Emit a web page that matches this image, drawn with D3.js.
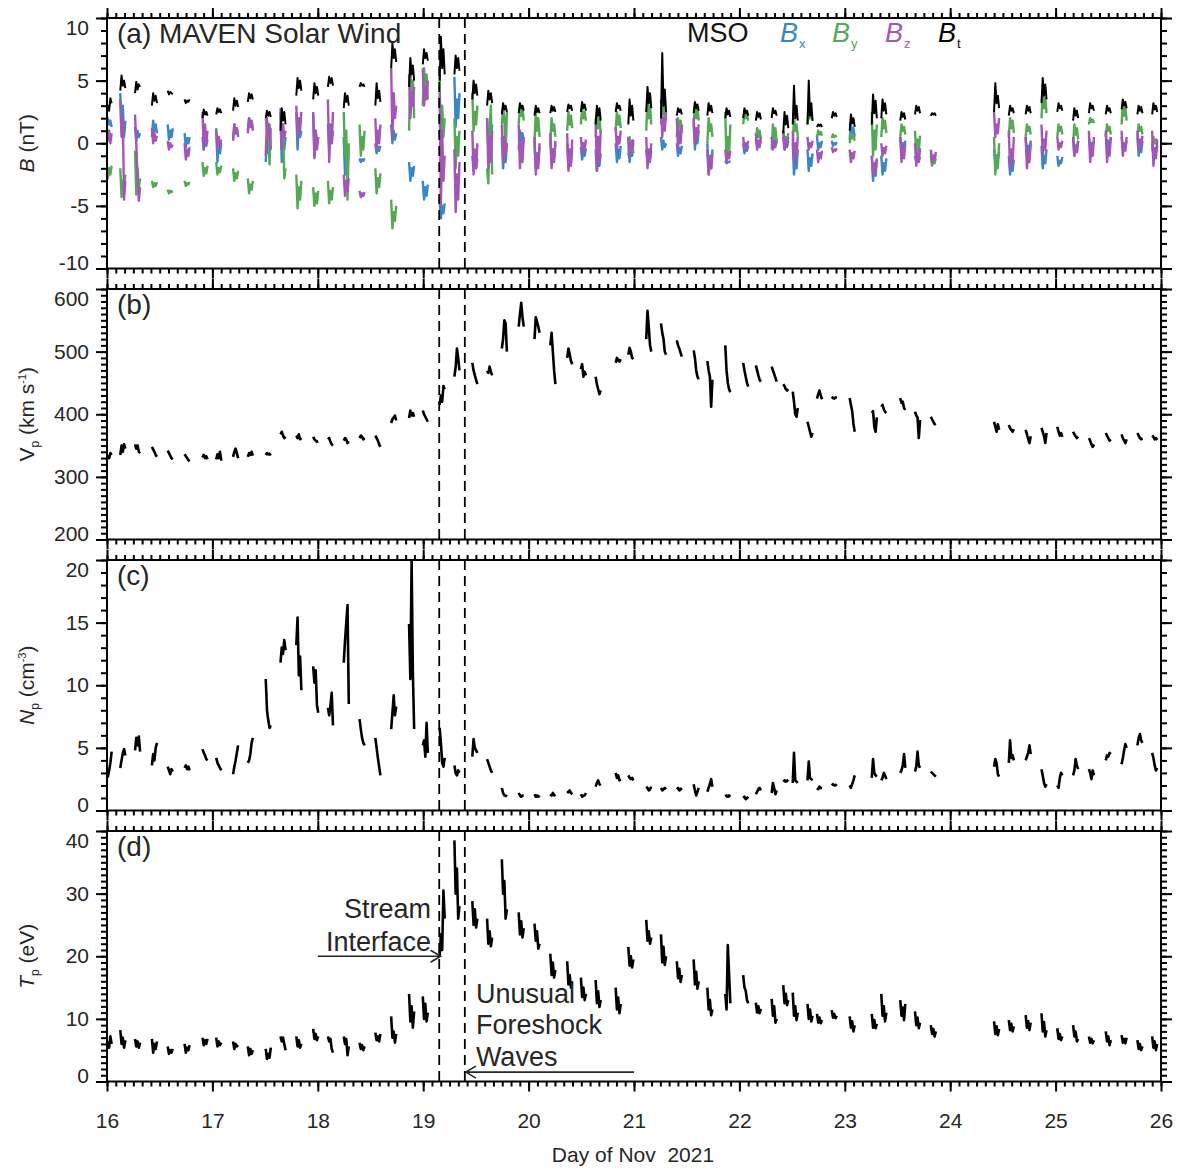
<!DOCTYPE html>
<html>
<head>
<meta charset="utf-8">
<script src="https://cdn.jsdelivr.net/npm/d3@7"></script>
<style>
  body { margin: 0; background: #fff; }
  svg { display: block; font-family: "Liberation Sans", Arial, Helvetica, sans-serif; }
</style>
</head>
<body>
<div id="chart"></div>
<script>
// MAVEN solar wind intervals, 16-26 Nov 2021
// one entry per orbit (centre of the solar-wind window, day of Nov)
const orbitDay = [
  16.02, 16.15, 16.29, 16.45, 16.60, 16.76, 16.93,
  17.06, 17.22, 17.36, 17.53, 17.67, 17.82,
  17.98, 18.12, 18.27, 18.42, 18.57, 18.72, 18.89,
  19.02, 19.18, 19.32, 19.49, 19.63, 19.77, 19.93,
  20.08, 20.23, 20.39, 20.52, 20.66, 20.85, 20.97,
  21.14, 21.28, 21.43, 21.59, 21.72, 21.89,
  22.06, 22.18, 22.33, 22.44, 22.53, 22.67, 22.76, 22.90,
  23.07, 23.28, 23.37, 23.55, 23.69, 23.84,
  24.44, 24.58, 24.74, 24.89,
  25.04, 25.19, 25.34, 25.50, 25.65, 25.80, 25.94
];
// sample times inside each window, relative to orbitDay (days)
const sampleOffsets = [-0.024, -0.012, 0, 0.012, 0.024];

// (a) magnetic field, nT
const bt = [
  [2.2,3.0,2.6,3.6,3.2],[4.2,5.4,4.6,5.0,4.4],[4.0,4.9,4.3,4.7,4.5],[3.0,4.0,3.4,3.8,3.2],[4.2,3.9,4.1,4.0,3.9],[3.5,3.2,3.4,3.3,3.5],[2.0,2.7,2.3,2.5,2.2],
  [2.3,2.8,2.5,2.7,2.4],[2.6,3.6,3.0,3.4,2.9],[3.3,4.0,3.6,3.9,3.5],[2.0,2.6,2.2,2.5,2.1],[1.0,2.8,1.8,2.5,1.5],[3.8,5.2,4.4,5.0,4.2],
  [3.5,4.8,4.0,4.5,3.8],[4.5,5.3,4.8,5.2,4.6],[2.8,4.0,3.3,3.8,3.0],[4.5,4.8,4.6,4.7,4.5],[3.0,4.8,3.6,4.2,3.3],[6.0,8.0,6.8,7.5,6.5],[4.5,6.8,5.5,6.2,5.0],
  [6.3,7.5,6.8,7.2,6.6],[5.0,8.5,6.0,7.5,5.5],[5.5,7.0,6.0,6.8,5.8],[3.5,5.0,4.0,4.7,3.8],[3.0,4.2,3.5,4.0,3.2],[2.3,3.2,2.7,3.0,2.5],[2.4,3.2,2.8,3.0,2.6],
  [2.2,3.0,2.5,2.8,2.4],[2.4,3.0,2.6,2.9,2.5],[2.5,3.1,2.8,3.0,2.6],[2.5,3.3,2.8,3.1,2.6],[1.5,3.0,2.2,2.8,1.8],[2.5,3.2,2.8,3.0,2.6],[1.5,3.5,2.2,3.0,1.8],
  [2.5,4.5,3.2,4.0,2.8],[2.0,7.2,3.0,4.3,2.5],[2.2,2.8,2.5,2.7,2.3],[2.4,3.3,2.8,3.1,2.6],[2.2,3.2,2.6,3.0,2.4],[2.0,2.8,2.3,2.6,2.1],
  [2.0,2.8,2.4,2.6,2.2],[1.8,2.5,2.1,2.4,1.9],[2.0,2.8,2.4,2.6,2.2],[0.8,2.5,1.5,2.2,1.2],[1.5,4.6,2.0,3.0,1.8],[1.5,5.0,2.2,3.2,1.8],[1.3,1.5,1.4,1.5,1.3],[2.0,2.5,2.2,2.4,2.1],
  [1.0,2.3,1.6,2.0,1.3],[1.5,3.9,2.4,3.4,2.0],[2.0,3.5,2.6,3.2,2.3],[1.8,2.5,2.1,2.4,1.9],[2.3,3.0,2.6,2.9,2.4],[2.2,2.4,2.3,2.4,2.2],
  [2.5,4.8,3.2,3.8,2.8],[2.2,3.0,2.6,2.8,2.4],[2.3,3.0,2.6,2.9,2.4],[3.2,5.2,3.8,4.7,3.5],
  [2.5,3.2,2.8,3.0,2.6],[1.8,2.8,2.2,2.6,2.0],[2.4,3.2,2.8,3.0,2.6],[2.3,3.0,2.6,2.8,2.4],[2.7,3.5,3.0,3.3,2.8],[2.3,3.0,2.6,2.9,2.4],[2.3,3.2,2.7,3.0,2.5]
];
const bx = [
  [1.2,2.0,1.5,1.8,1.3],[4.0,1.0,3.0,0.5,1.8],[1.3,0.2,1.0,0.5,0.8],[0.5,1.8,1.0,1.5,0.8],[1.5,0.3,1.0,0.5,1.2],[0.8,-0.3,0.4,0.0,0.5],[0.5,-0.5,0.2,-0.2,0.3],
  [1.2,-1.5,0.5,-0.8,0.0],[0.3,1.5,0.8,1.2,0.6],[1.0,2.0,1.4,1.8,1.2],[-1.5,0.5,-0.8,0.0,-0.5],[2.2,-1.5,1.0,-0.5,0.5],[2.5,-0.5,1.5,0.5,1.0],
  [2.3,-1.0,1.0,0.0,0.5],[1.5,-0.5,0.8,0.0,1.0],[0.5,-2.5,-1.0,-2.0,-0.5],[-1.2,-1.5,-1.3,-1.4,-1.2],[0.0,-0.8,-0.3,-0.6,-0.2],[1.5,0.0,1.0,0.3,0.8],[-1.5,-3.0,-2.0,-2.6,-1.8],
  [-3.0,-4.5,-3.5,-4.2,-3.3],[-4.5,-6.0,-5.0,-5.6,-4.8],[5.3,1.3,3.5,2.0,4.0],[-1.0,-2.2,-1.5,-2.0,-1.2],[2.0,-0.5,1.0,0.0,1.5],[0.5,-2.0,-0.5,-1.5,0.0],[-0.5,1.0,0.2,0.8,0.0],
  [0.0,-2.0,-0.8,-1.5,-0.3],[0.2,-1.5,-0.5,-1.2,0.0],[0.0,-2.0,-0.8,-1.5,-0.3],[-0.3,-1.3,-0.6,-1.0,-0.4],[-0.5,-2.2,-1.0,-1.8,-0.8],[0.0,-1.5,-0.5,-1.2,-0.2],[0.5,-1.5,-0.5,-1.0,0.0],
  [-0.5,-1.5,-0.8,-1.2,-0.6],[0.5,-0.5,0.2,-0.3,0.0],[0.0,-1.0,-0.4,-0.8,-0.2],[1.5,-0.5,0.8,0.0,1.0],[0.0,-2.5,-1.0,-2.0,-0.5],[-1.4,-1.6,-1.5,-1.5,-1.4],
  [0.0,-0.8,-0.4,-0.6,-0.2],[0.3,-0.2,0.1,-0.1,0.2],[0.5,0.0,0.3,0.1,0.4],[0.5,-0.5,0.0,-0.3,0.2],[0.0,-2.5,-1.0,-2.0,-0.5],[-0.5,-2.2,-1.2,-1.8,-0.8],[0.5,-0.5,0.0,-0.3,0.2],[0.2,-0.2,0.0,-0.1,0.1],
  [0.3,1.5,0.8,1.2,0.5],[-1.0,-3.0,-1.8,-2.6,-1.3],[-1.0,-2.5,-1.6,-2.2,-1.2],[0.5,-0.5,0.0,-0.3,0.2],[-1.0,-1.5,-1.2,-1.4,-1.1],[-0.8,-1.2,-1.0,-1.1,-0.9],
  [-0.5,-1.5,-1.0,-1.3,-0.7],[-1.0,-2.5,-1.6,-2.2,-1.3],[0.5,-1.0,-0.2,-0.8,0.2],[-0.2,-2.0,-1.0,-1.6,-0.5],
  [-1.0,-1.8,-1.4,-1.6,-1.1],[0.5,-1.0,-0.2,-0.7,0.2],[0.5,-0.5,0.0,-0.3,0.2],[0.8,-0.5,0.2,-0.2,0.5],[0.5,-0.5,0.0,-0.3,0.2],[0.5,-1.0,-0.2,-0.7,0.2],[0.0,-1.0,-0.5,-0.8,-0.2]
];
const by = [
  [-1.5,-2.8,-2.0,-2.5,-1.8],[-2.0,-4.3,-3.0,-3.8,-2.5],[-0.6,-4.1,-2.0,-3.5,-2.8],[-3.0,-3.5,-3.2,-3.4,-3.1],[-3.7,-4.0,-3.8,-3.9,-3.8],[-3.0,-3.4,-3.2,-3.3,-3.1],[-1.5,-2.6,-2.0,-2.4,-1.8],
  [-1.5,-2.5,-2.0,-2.3,-1.8],[-2.0,-3.0,-2.4,-2.8,-2.2],[-2.8,-4.0,-3.3,-3.7,-3.0],[2.0,1.0,1.5,-1.7,1.2],[2.5,0.5,1.5,-2.8,-2.0],[-2.5,-5.2,-3.5,-4.5,-3.0],
  [-3.5,-5.0,-4.0,-4.8,-3.8],[-3.0,-4.8,-3.8,-4.5,-3.5],[2.5,-1.0,1.0,-4.5,0.0],[1.5,-1.0,0.5,-0.5,1.0],[-2.0,-4.0,-2.8,-3.5,-2.4],[-4.5,-6.8,-5.5,-6.2,-5.0],[1.0,6.0,3.0,5.0,2.0],
  [3.0,6.0,4.0,5.5,3.5],[5.5,-2.0,3.0,0.5,2.0],[2.0,-2.0,0.5,-1.0,1.0],[4.0,1.0,2.5,1.5,3.0],[-2.0,-3.2,1.0,3.0,-2.5],[1.5,2.8,2.0,-1.0,2.5],[1.5,3.0,2.2,2.8,1.8],
  [0.0,2.5,1.0,2.0,0.5],[0.0,2.0,1.0,1.5,0.5],[1.0,2.5,1.5,2.2,1.2],[1.5,2.8,2.0,2.5,1.8],[0.5,2.5,1.2,2.0,0.8],[1.0,2.5,1.5,2.2,1.2],[-1.0,0.5,-0.5,0.2,-0.8],
  [1.0,3.5,2.0,3.0,1.5],[1.5,3.5,2.2,3.0,1.8],[0.5,2.0,1.2,1.8,0.8],[1.5,3.0,2.0,2.7,1.8],[0.0,2.0,1.0,1.5,0.5],[2.5,-1.5,0.5,-1.0,1.5],
  [1.5,2.5,2.0,2.3,1.8],[0.0,1.2,0.5,1.0,0.3],[-0.5,1.5,0.5,1.2,0.0],[1.0,0.0,0.5,0.2,0.8],[0.0,2.0,1.0,1.5,0.5],[1.5,2.5,2.0,2.2,1.8],[0.5,1.0,0.7,0.9,0.6],[0.4,0.7,0.5,0.6,0.5],
  [0.0,0.8,0.4,0.6,0.2],[2.5,-1.0,1.0,-0.5,1.5],[0.5,2.0,1.2,1.8,0.8],[0.5,1.5,1.0,1.3,0.7],[1.0,-1.0,0.3,-0.6,0.6],[-1.0,-1.8,-1.4,-1.6,-1.2],
  [0.5,-2.5,-1.0,-2.0,0.0],[0.5,2.0,1.2,1.8,0.8],[0.5,1.5,1.0,1.3,0.7],[2.0,4.0,2.8,3.6,2.4],
  [0.5,1.5,1.0,1.3,0.7],[0.0,1.5,0.7,1.2,0.3],[1.5,2.0,1.7,1.9,1.6],[0.5,1.5,1.0,1.3,0.7],[1.5,3.2,2.2,2.8,1.8],[0.5,1.5,1.0,1.3,0.7],[-0.5,0.5,0.0,0.3,-0.2]
];
const bz = [
  [1.5,0.2,1.0,0.0,0.8],[3.5,0.5,2.0,-4.5,-3.0],[2.3,-0.1,-2.7,-4.6,-3.5],[1.2,0.0,0.8,0.2,0.6],[0.2,-0.5,0.0,-0.3,-0.1],[0.0,-1.3,-0.5,-1.0,-0.3],[2.5,-0.5,1.5,0.0,1.0],
  [1.0,-0.5,0.5,-0.2,0.3],[0.2,1.5,0.8,1.2,0.5],[0.8,2.0,1.3,1.7,1.0],[-1.0,2.0,0.5,1.5,-0.5],[2.8,-0.5,1.5,0.5,1.0],[3.0,0.5,2.0,1.0,2.5],
  [2.5,-1.2,1.0,-0.5,0.5],[3.5,-1.5,1.5,0.0,2.5],[-2.5,-4.2,-3.0,-3.8,-2.8],[-3.8,-4.3,-4.0,-4.2,-3.9],[2.0,-0.5,1.0,0.0,1.5],[6.0,0.5,4.0,2.0,3.0],[5.5,2.0,4.0,3.0,4.5],
  [6.0,3.0,4.5,3.5,5.0],[4.0,-5.0,1.0,-3.0,-1.0],[-0.5,-5.5,-2.5,-4.5,-1.5],[1.0,-2.5,-0.5,-2.0,0.0],[2.0,-2.0,0.5,-1.5,1.0],[1.5,-1.5,0.5,-1.0,0.0],[1.5,-2.0,0.0,-1.5,0.5],
  [0.5,-2.5,-1.0,-2.0,0.0],[0.8,-2.0,-0.5,-1.5,0.2],[0.8,-2.2,-0.5,-1.8,0.3],[0.5,-0.8,0.0,-0.5,0.3],[2.0,-2.2,0.5,-1.5,1.0],[1.3,-0.5,0.5,0.0,1.0],[0.5,-1.0,0.0,-0.5,0.3],
  [0.5,-2.0,-0.5,-1.5,0.0],[3.5,0.5,2.0,1.0,2.5],[2.0,-0.5,1.0,0.0,1.5],[2.0,0.0,1.2,0.5,1.5],[-0.5,-2.5,-1.2,-2.0,-0.8],[-0.5,-1.5,-0.8,-1.2,-0.6],
  [0.5,-0.5,0.0,-0.3,0.2],[0.8,-0.5,0.2,-0.3,0.5],[0.5,-0.5,0.0,-0.3,0.2],[1.0,-0.5,0.3,-0.2,0.5],[1.0,-1.5,0.0,-1.0,0.5],[0.5,-0.5,0.0,-0.3,0.2],[-0.5,-1.5,-0.8,-1.2,-0.6],[-0.3,-0.7,-0.5,-0.6,-0.4],
  [-0.5,-1.5,-0.8,-1.2,-0.6],[-1.0,-2.5,-1.6,-2.2,-1.2],[0.0,-1.0,-0.4,-0.8,-0.2],[0.5,-1.5,-0.4,-1.2,0.0],[0.0,-1.8,-0.8,-1.5,-0.4],[-0.5,-1.5,-1.0,-1.3,-0.7],
  [2.5,0.5,1.5,0.8,2.0],[1.0,-2.0,-0.5,-1.5,0.5],[0.5,-2.0,-0.8,-1.5,0.0],[1.5,-1.0,0.3,-0.5,1.0],
  [0.5,-0.5,0.0,-0.3,0.2],[0.5,-1.0,-0.2,-0.7,0.2],[1.0,-1.5,-0.2,-1.0,0.5],[1.0,-1.5,-0.2,-1.0,0.5],[1.0,-1.0,0.0,-0.6,0.5],[1.0,-0.5,0.3,-0.2,0.6],[1.0,-1.8,-0.4,-1.2,0.3]
];

// (b) proton speed, km/s
const vp = [
  [326,333,330,338,335],[335,350,340,352,345],[352,345,350,340,338],[348,344,340,335,332],[342,338,334,330,328],[336,333,330,327,325],[331,335,330,333,328],
  [328,336,330,340,326],[332,340,345,338,330],[332,338,335,340,334],[335,338,336,337,334],[368,372,366,362,364],[366,362,368,360,362],
  [364,360,358,356,357],[360,362,356,352,350],[358,362,360,354,357],[362,366,364,360,362],[366,362,358,352,348],[386,392,395,398,390],[394,406,398,402,396],
  [406,400,396,392,388],[415,430,420,445,440],[460,475,505,490,470],[482,470,462,455,448],[470,466,476,468,462],[505,520,550,545,500],[540,560,578,555,540],
  [520,555,548,540,530],[510,530,500,470,448],[490,505,496,485,480],[472,480,460,468,462],[460,448,440,432,438],[482,490,486,484,488],[495,506,500,490,488],
  [520,565,540,510,500],[545,530,520,500,495],[518,510,505,498,492],[502,490,470,460,456],[485,470,460,412,455],[510,470,450,440,435],
  [482,470,460,450,444],[478,470,462,455,452],[476,470,464,458,452],[448,445,440,438,440],[436,420,400,396,410],[388,380,372,364,370],[425,432,438,430,424],[428,426,425,427,426],
  [426,415,405,385,372],[402,405,380,372,395],[412,415,408,404,402],[426,418,420,410,407],[404,398,395,362,391],[396,392,388,384,385],
  [388,380,372,384,375],[383,378,375,372,376],[375,368,360,354,365],[378,372,365,354,370],
  [380,372,366,370,364],[372,368,365,362,364],[362,358,352,348,352],[370,366,362,358,360],[368,362,358,354,360],[370,366,362,360,362],[366,364,360,362,359]
];

// (c) proton density, cm^-3
const np = [
  [2.8,2.7,3.2,3.8,4.7],[3.4,4.0,4.6,4.9,4.4],[4.8,5.8,5.2,5.9,4.7],[3.6,4.5,4.0,5.0,5.4],[3.5,3.2,2.9,3.3,3.1],[3.4,3.6,3.3,3.5,3.2],[4.9,4.6,4.4,4.1,4.0],
  [4.2,3.8,3.6,3.4,3.2],[2.9,3.5,4.0,4.6,5.2],[3.8,4.0,4.5,5.4,5.8],[10.5,8.0,7.2,6.6,6.8],[11.8,13.0,12.5,13.6,12.8],[13.2,15.4,10.8,12.3,9.6],
  [11.5,10.2,11.2,8.4,7.8],[8.2,7.6,8.4,9.4,6.8],[11.8,13.5,15.0,16.4,8.5],[7.3,6.5,5.8,5.4,5.2],[5.8,5.0,4.2,3.5,2.8],[6.5,7.8,9.2,7.6,8.3],[14.9,10.5,19.9,11.0,6.5],
  [5.2,5.6,4.3,7.0,4.6],[6.6,5.4,3.8,3.5,4.2],[3.6,3.0,2.8,3.2,3.0],[4.3,5.7,5.0,4.8,4.6],[4.1,3.8,3.5,3.2,3.0],[1.8,1.4,1.2,1.2,1.1],[1.4,1.2,1.1,1.2,1.2],
  [1.3,1.1,1.2,1.1,1.2],[1.3,1.2,1.4,1.2,1.3],[1.4,1.5,1.6,1.4,1.3],[1.3,1.1,1.2,1.2,1.4],[1.9,2.2,2.4,2.1,2.0],[3.0,2.6,2.8,2.4,2.5],[2.8,2.6,2.5,2.6,2.4],
  [1.9,1.8,1.6,1.7,1.9],[1.8,1.6,1.7,1.8,1.7],[1.7,1.8,1.6,1.7,1.8],[2.1,1.6,1.2,1.5,1.8],[1.5,1.8,2.1,2.5,1.9],[1.1,1.2,1.1,1.2,1.1],
  [1.0,1.1,0.9,1.0,1.1],[1.3,1.5,1.7,1.8,1.6],[1.4,2.2,1.8,1.3,1.6],[2.3,2.4,2.3,2.4,2.3],[2.2,4.6,2.4,2.3,2.2],[2.4,3.9,2.6,2.5,2.4],[1.8,1.7,1.9,1.8,1.8],[2.0,2.1,2.0,2.0,2.1],
  [2.0,1.8,2.1,2.4,2.8],[2.6,4.1,3.0,2.8,2.7],[2.4,2.6,3.0,2.8,2.5],[3.0,3.2,3.6,4.5,3.4],[3.1,3.5,4.7,3.6,3.4],[3.1,3.0,2.9,2.8,2.7],
  [3.5,4.1,3.8,2.9,2.7],[3.8,5.6,4.2,4.4,4.0],[4.0,4.3,4.6,5.2,4.5],[3.3,2.8,2.2,1.9,2.1],
  [2.0,1.8,2.6,3.0,2.8],[2.8,3.2,4.1,3.6,3.3],[3.3,3.0,2.5,3.2,2.8],[4.0,4.4,4.3,4.6,4.5],[3.7,4.2,4.8,5.3,5.0],[5.2,5.8,6.1,5.6,5.4],[4.6,4.2,3.6,3.2,3.4]
];

// (d) proton temperature, eV
const tp = [
  [5.0,6.2,5.4,7.2,6.0],[8.2,6.0,7.0,5.4,6.6],[6.8,5.6,6.4,5.4,6.2],[6.8,4.6,6.0,5.2,6.4],[5.6,4.4,5.0,4.6,5.2],[6.0,4.6,5.4,5.0,5.8],[7.0,5.8,6.6,6.0,6.8],
  [7.0,5.6,6.4,5.8,6.2],[6.4,5.2,6.0,5.6,5.8],[5.6,4.2,5.2,4.4,5.0],[5.2,3.6,4.4,3.8,5.4],[7.2,6.4,7.0,6.0,5.0],[7.2,5.6,6.6,5.4,6.0],
  [8.4,6.8,7.6,6.6,7.2],[7.2,6.4,6.8,5.2,4.6],[7.2,6.0,6.8,4.2,5.6],[6.2,5.2,5.8,5.0,5.6],[7.8,6.6,7.2,6.4,7.6],[10.4,7.0,8.0,6.2,7.6],[14.0,9.6,12.0,8.6,11.2],
  [13.6,10.0,12.4,9.6,11.0],[20.0,23.5,21.0,30.5,26.0],[38.5,30.0,34.0,26.0,28.0],[28.8,25.0,27.5,24.6,26.0],[26.0,22.0,24.0,21.6,23.0],[35.5,30.0,32.0,26.0,27.5],[27.0,23.5,25.6,23.0,24.5],
  [25.2,22.5,24.0,21.2,22.0],[20.4,17.0,19.0,16.6,17.8],[19.2,15.5,17.0,15.0,16.0],[16.6,13.5,15.0,13.0,14.0],[16.2,12.5,14.4,11.9,13.0],[15.0,11.5,13.4,10.9,12.4],[21.5,18.5,20.0,18.2,19.5],
  [25.8,22.5,24.0,22.0,23.0],[23.5,19.0,21.5,18.6,20.0],[19.2,16.5,18.0,15.9,17.0],[19.5,15.5,17.5,14.8,16.0],[15.0,11.5,13.0,10.6,11.5],[14.0,11.5,21.8,17.2,12.5],
  [17.0,15.0,14.5,13.0,12.5],[12.6,11.0,12.0,10.9,11.6],[13.2,10.5,12.0,9.4,10.0],[15.4,12.5,14.0,12.2,13.0],[14.2,10.5,12.0,9.8,11.0],[12.4,10.0,11.5,9.6,10.5],[10.8,9.4,10.2,9.3,9.8],[11.4,10.2,10.8,10.1,10.5],
  [10.4,8.6,9.6,8.0,9.0],[10.8,8.6,9.8,8.5,9.2],[14.0,10.5,12.0,9.6,11.0],[13.0,10.5,11.8,9.8,12.4],[11.2,9.0,10.2,8.5,9.4],[9.0,7.6,8.4,7.2,8.0],
  [9.6,7.6,8.8,7.4,8.4],[9.8,8.2,9.2,8.0,8.8],[10.6,8.6,9.6,8.2,9.4],[10.9,8.0,9.5,7.2,8.2],
  [8.5,6.8,7.6,6.6,7.2],[9.0,7.2,8.0,6.4,6.8],[7.2,6.2,6.8,6.1,6.6],[8.0,6.4,7.2,5.8,6.6],[7.4,6.2,6.8,6.1,7.0],[6.6,5.2,6.0,5.0,5.6],[7.2,5.4,6.4,5.0,6.0]
];

// dashed lines: stream interface and end of the unusual foreshock waves
const eventDays = [19.152, 19.395];

const colors = { bx: '#3b86c6', by: '#55a955', bz: '#a555b8', bt: '#000' };
const textColor = '#262626';

const W = 1181, H = 1169;
const plotLeft = 107, plotRight = 1161;
const panelTop = [18, 289, 560, 831];
const panelH = 250.5;

const x = d3.scaleLinear().domain([16, 26]).range([plotLeft, plotRight]);
const xMajor = d3.range(16, 26.5, 1);
const xMinor = d3.range(0, 121).map(i => 16 + i / 12);

const svg = d3.select('#chart').append('svg')
    .attr('width', W)
    .attr('height', H);

const panels = [
    { domain: [-10, 10], major: 5, minor: 1, tag: '(a) MAVEN Solar Wind',
      series: [{ v: bx, c: colors.bx, w: 2.4 }, { v: by, c: colors.by, w: 2.4 },
               { v: bz, c: colors.bz, w: 2.4 }, { v: bt, c: colors.bt, w: 2 }] },
    { domain: [200, 600], major: 100, minor: 10, tag: '(b)', series: [{ v: vp, c: '#000', w: 2.6 }] },
    { domain: [0, 20], major: 5, minor: 1, tag: '(c)', series: [{ v: np, c: '#000', w: 2.6 }] },
    { domain: [0, 40], major: 10, minor: 1, tag: '(d)', series: [{ v: tp, c: '#000', w: 2.6 }] }
];

function styleAxis(sel) {
    sel.select('.domain').remove();
    sel.selectAll('.tick line').attr('stroke', '#000').attr('stroke-width', 2);
    sel.selectAll('.tick text').attr('fill', textColor).style('font-size', '21px')
        .style('font-family', '"Liberation Sans", Arial, sans-serif');
}

const scales = [];

panels.forEach((p, i) => {
    const top = panelTop[i], bottom = top + panelH;
    const y = d3.scaleLinear().domain(p.domain).range([bottom, top]);
    scales.push(y);
    const g = svg.append('g');

    // clip for the data
    svg.append('clipPath').attr('id', 'clip' + i)
        .append('rect').attr('x', plotLeft).attr('y', top)
        .attr('width', plotRight - plotLeft).attr('height', panelH);

    const dataG = g.append('g').attr('clip-path', `url(#clip${i})`);
    const line = d3.line().x(d => x(d[0])).y(d => y(d[1]));

    p.series.forEach(s => {
        s.v.forEach((vals, k) => {
            if (!vals) return;
            const pts = vals.map((v, j) => [orbitDay[k] + sampleOffsets[j], v]);
            dataG.append('path')
                .attr('d', line(pts))
                .attr('fill', 'none')
                .attr('stroke', s.c)
                .attr('stroke-width', s.w)
                .attr('stroke-linejoin', 'round');
        });
    });

    // dashed event lines
    dataG.selectAll('line.event')
        .data(eventDays)
        .join('line')
        .attr('class', 'event')
        .attr('x1', d => x(d)).attr('x2', d => x(d))
        .attr('y1', top).attr('y2', bottom)
        .attr('stroke', '#000')
        .attr('stroke-width', 1.8)
        .attr('stroke-dasharray', '10,6');

    // x ticks, top and bottom, pointing outwards
    g.append('g').attr('transform', `translate(0,${top})`)
        .call(d3.axisTop(x).tickValues(xMinor).tickSize(5).tickFormat(''))
        .call(styleAxis);
    g.append('g').attr('transform', `translate(0,${top})`)
        .call(d3.axisTop(x).tickValues(xMajor).tickSize(10).tickFormat(''))
        .call(styleAxis);
    g.append('g').attr('transform', `translate(0,${bottom})`)
        .call(d3.axisBottom(x).tickValues(xMinor).tickSize(5).tickFormat(''))
        .call(styleAxis);
    g.append('g').attr('transform', `translate(0,${bottom})`)
        .call(d3.axisBottom(x).tickValues(xMajor).tickSize(10).tickPadding(22)
            .tickFormat(i === panels.length - 1 ? d => String(d) : ''))
        .call(styleAxis);

    // y ticks, left (labelled) and right
    const yMajor = d3.range(p.domain[0], p.domain[1] + p.major / 2, p.major);
    const yMinor = d3.range(p.domain[0], p.domain[1] + p.minor / 2, p.minor);
    g.append('g').attr('transform', `translate(${plotLeft},0)`)
        .call(d3.axisLeft(y).tickValues(yMinor).tickSize(6).tickFormat(''))
        .call(styleAxis);
    g.append('g').attr('transform', `translate(${plotLeft},0)`)
        .call(d3.axisLeft(y).tickValues(yMajor).tickSize(11).tickPadding(7).tickFormat(d => String(d)))
        .call(styleAxis)
        .call(a => a.selectAll('.tick text')
            .attr('transform', d => d === p.domain[1] ? 'translate(0,10)' : (d === p.domain[0] ? 'translate(0,-6)' : null)));
    g.append('g').attr('transform', `translate(${plotRight},0)`)
        .call(d3.axisRight(y).tickValues(yMinor).tickSize(6).tickFormat(''))
        .call(styleAxis);
    g.append('g').attr('transform', `translate(${plotRight},0)`)
        .call(d3.axisRight(y).tickValues(yMajor).tickSize(11).tickFormat(''))
        .call(styleAxis);

    // frame
    g.append('rect')
        .attr('x', plotLeft).attr('y', top)
        .attr('width', plotRight - plotLeft).attr('height', panelH)
        .attr('fill', 'none').attr('stroke', '#000').attr('stroke-width', 2);

    // panel tag
    g.append('text')
        .attr('x', plotLeft + 10).attr('y', top + 25)
        .attr('fill', textColor)
        .style('font-size', '28px')
        .text(p.tag);
});

// legend of panel (a)
const legend = svg.append('g').style('font-size', '27px');
legend.append('text').attr('x', 687).attr('y', 42).attr('fill', '#111').text('MSO');
const legendItems = [
    { sub: 'x', c: colors.bx, x: 780 },
    { sub: 'y', c: colors.by, x: 832 },
    { sub: 'z', c: colors.bz, x: 885 },
    { sub: 't', c: colors.bt, x: 938 }
];
legendItems.forEach(d => {
    const t = legend.append('text').attr('x', d.x).attr('y', 42).attr('fill', d.c);
    t.append('tspan').style('font-style', 'italic').text('B');
    t.append('tspan').attr('dy', 6).attr('dx', 1).style('font-size', '13px').text(d.sub);
});

// y axis titles
function yTitle(i, parts) {
    const cy = panelTop[i] + panelH / 2;
    const t = svg.append('text')
        .attr('transform', `translate(34,${cy}) rotate(-90)`)
        .attr('text-anchor', 'middle')
        .attr('fill', textColor)
        .style('font-size', '21px');
    parts.forEach(p => {
        const s = t.append('tspan').text(p.t);
        if (p.italic) s.style('font-style', 'italic');
        if (p.size) s.style('font-size', p.size + 'px');
        if (p.dy) s.attr('dy', p.dy);
    });
}
yTitle(0, [{ t: 'B', italic: true }, { t: ' (nT)' }]);
yTitle(1, [{ t: 'V' }, { t: 'p', size: 12, dy: 5 }, { t: ' (km s', dy: -5 }, { t: '-1', size: 11, dy: -8 }, { t: ')', dy: 8 }]);
yTitle(2, [{ t: 'N', italic: true }, { t: 'p', size: 12, dy: 5 }, { t: ' (cm', dy: -5 }, { t: '-3', size: 11, dy: -8 }, { t: ')', dy: 8 }]);
yTitle(3, [{ t: 'T', italic: true }, { t: 'p', size: 12, dy: 5 }, { t: ' (eV)', dy: -5 }]);

// x axis title
svg.append('text')
    .attr('x', (plotLeft + plotRight) / 2 - 1)
    .attr('y', 1162)
    .attr('text-anchor', 'middle')
    .attr('fill', textColor)
    .style('font-size', '21px')
    .text('Day of Nov\u00a0\u00a02021');

// annotations in panel (d)
const yT = scales[3];
const ann = svg.append('g').attr('fill', textColor).style('font-size', '27px');
ann.append('text').attr('x', x(19.075)).attr('y', yT(26.1)).attr('text-anchor', 'end').text('Stream');
ann.append('text').attr('x', x(19.075)).attr('y', yT(20.8)).attr('text-anchor', 'end').text('Interface');
ann.append('text').attr('x', x(19.50)).attr('y', yT(12.6)).text('Unusual');
ann.append('text').attr('x', x(19.50)).attr('y', yT(7.6)).text('Foreshock');
ann.append('text').attr('x', x(19.50)).attr('y', yT(2.5)).text('Waves');

function arrow(d0, d1, v) {
    const x0 = x(d0), x1 = x(d1), yy = yT(v);
    const dir = x1 > x0 ? 1 : -1;
    const p = d3.path();
    p.moveTo(x0, yy); p.lineTo(x1, yy);
    p.moveTo(x1 - dir * 10, yy - 6); p.lineTo(x1, yy); p.lineTo(x1 - dir * 10, yy + 6);
    svg.append('path').attr('d', p.toString())
        .attr('fill', 'none').attr('stroke', textColor).attr('stroke-width', 1.6);
}
arrow(18.0, 19.165, 20.0);
arrow(21.0, 19.405, 1.5);
</script>
</body>
</html>
